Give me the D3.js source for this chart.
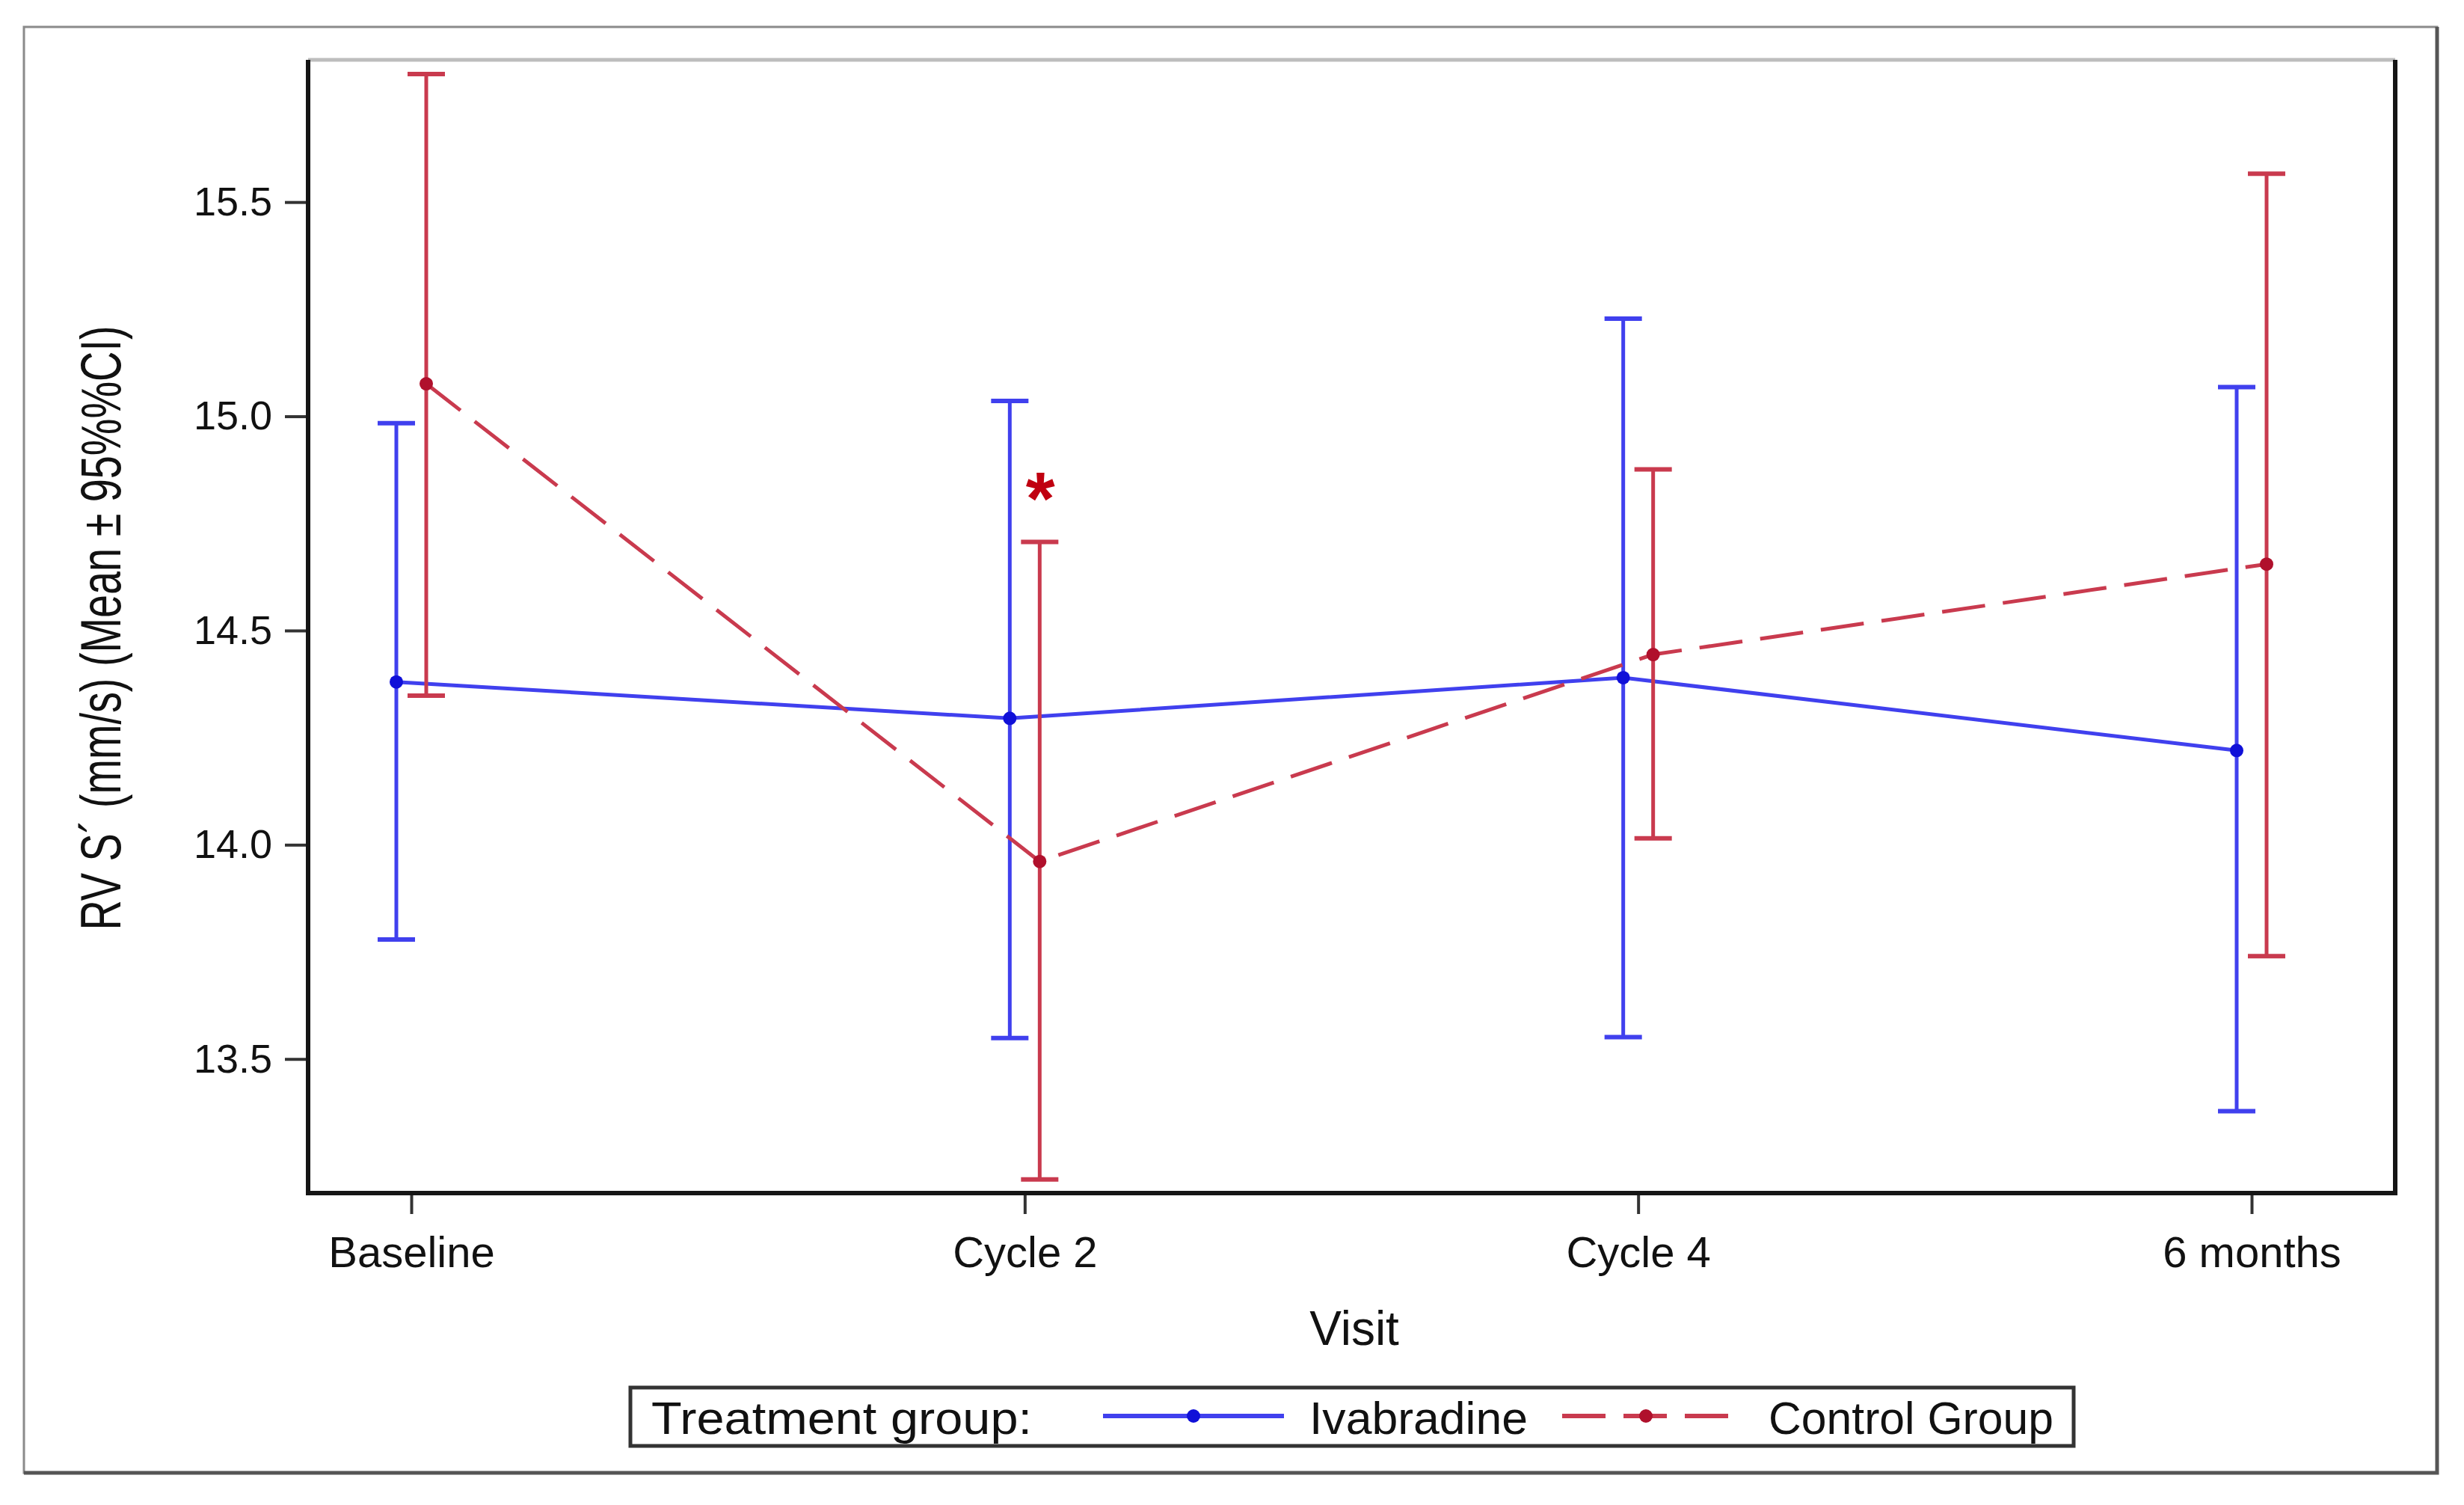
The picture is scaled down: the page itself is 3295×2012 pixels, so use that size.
<!DOCTYPE html>
<html>
<head>
<meta charset="utf-8">
<script src="https://cdn.jsdelivr.net/npm/d3@7"></script>
<style>
  body { margin: 0; background: #fff; }
  svg { display: block; font-family: "Liberation Sans", Arial, sans-serif; }
</style>
</head>
<body>
<script>
// data
const visits = ["Baseline", "Cycle 2", "Cycle 4", "6 months"];
const ivabMean = [14.38, 14.295, 14.39, 14.22];
const ivabLower = [13.779, 13.549, 13.551, 13.378];
const ivabUpper = [14.984, 15.036, 15.228, 15.068];
const ctrlMean = [15.076, 13.961, 14.444, 14.655];
const ctrlLower = [14.348, 13.219, 14.015, 13.74];
const ctrlUpper = [15.799, 14.707, 14.876, 15.566];
const yTicks = [13.5, 14.0, 14.5, 15.0, 15.5];
const seriesNames = ["Ivabradine", "Control Group"];
const starVisit = "Cycle 2";
const starValue = 14.85;

const width = 3295,
  height = 2012;
const plot = { left: 412, right: 3203, top: 80, bottom: 1595 };

const svg = d3
  .select("body")
  .append("svg")
  .attr("width", width)
  .attr("height", height)
  .attr("viewBox", [0, 0, width, height]);

const x = d3.scalePoint().domain(visits).range([550, 3011]);
const y = d3
  .scaleLinear()
  .domain([13.187, 15.832])
  .range([plot.bottom, plot.top]);

const series = [
  {
    name: seriesNames[0],
    offset: -20,
    line: "#4040ee",
    dot: "#1010d8",
    width: 5,
    dash: null,
    rows: visits.map((v, i) => ({ visit: v, mean: ivabMean[i], lo: ivabLower[i], hi: ivabUpper[i] })),
  },
  {
    name: seriesNames[1],
    offset: 20,
    line: "#c93a4e",
    dot: "#b0102c",
    width: 5,
    dash: "58,24",
    rows: visits.map((v, i) => ({ visit: v, mean: ctrlMean[i], lo: ctrlLower[i], hi: ctrlUpper[i] })),
  },
];

// outer frame
svg
  .append("rect")
  .attr("x", 32)
  .attr("y", 36)
  .attr("width", 3227)
  .attr("height", 1933)
  .attr("fill", "none")
  .attr("stroke", "#8a8a8a")
  .attr("stroke-width", 3);
svg
  .append("path")
  .attr("d", "M3259,36V1969H32")
  .attr("fill", "none")
  .attr("stroke", "#555")
  .attr("stroke-width", 5);

// y axis
const yAxis = svg
  .append("g")
  .attr("transform", `translate(${plot.left},0)`)
  .call(d3.axisLeft(y).tickValues(yTicks).tickFormat(d3.format(".1f")).tickSize(31).tickPadding(17));
yAxis.select(".domain").remove();
yAxis.selectAll(".tick line").attr("stroke", "#333").attr("stroke-width", 4);
yAxis
  .selectAll(".tick text")
  .attr("font-size", 54)
  .attr("fill", "#111")
  .attr("font-family", "Liberation Sans, Arial, sans-serif");

// x axis
const xAxis = svg
  .append("g")
  .attr("transform", `translate(0,${plot.bottom})`)
  .call(d3.axisBottom(x).tickSize(28).tickPadding(30));
xAxis.select(".domain").remove();
xAxis.selectAll(".tick line").attr("stroke", "#333").attr("stroke-width", 4);
xAxis
  .selectAll(".tick text")
  .attr("font-size", 58)
  .attr("fill", "#111")
  .attr("font-family", "Liberation Sans, Arial, sans-serif");

// plot frame
svg
  .append("line")
  .attr("x1", plot.left)
  .attr("x2", plot.right)
  .attr("y1", plot.top)
  .attr("y2", plot.top)
  .attr("stroke", "#bdbdbd")
  .attr("stroke-width", 5);
svg
  .append("path")
  .attr("d", `M${plot.left},${plot.top}V${plot.bottom}H${plot.right}V${plot.top}`)
  .attr("fill", "none")
  .attr("stroke", "#151515")
  .attr("stroke-width", 6);

// axis titles
svg
  .append("text")
  .attr("transform", `translate(161,${(435 + 1244) / 2}) rotate(-90)`)
  .attr("text-anchor", "middle")
  .attr("font-size", 76)
  .attr("fill", "#111")
  .attr("textLength", 808)
  .attr("lengthAdjust", "spacingAndGlyphs")
  .text("RV S\u00b4 (mm/s) (Mean \u00b1 95%%CI)");

svg
  .append("text")
  .attr("x", 1811)
  .attr("y", 1798)
  .attr("text-anchor", "middle")
  .attr("font-size", 64)
  .attr("fill", "#111")
  .text("Visit");

// lines, error bars, markers
const lineGen = d3
  .line()
  .x((d) => x(d.visit))
  .y((d) => y(d.mean));

series.forEach((s) => {
  const g = svg.append("g").attr("transform", `translate(${s.offset},0)`);

  g.selectAll("line.bar")
    .data(s.rows)
    .join("line")
    .attr("class", "bar")
    .attr("x1", (d) => x(d.visit))
    .attr("x2", (d) => x(d.visit))
    .attr("y1", (d) => y(d.lo))
    .attr("y2", (d) => y(d.hi))
    .attr("stroke", s.line)
    .attr("stroke-width", s.width);

  ["lo", "hi"].forEach((k) => {
    g.selectAll("line.cap-" + k)
      .data(s.rows)
      .join("line")
      .attr("class", "cap-" + k)
      .attr("x1", (d) => x(d.visit) - 25)
      .attr("x2", (d) => x(d.visit) + 25)
      .attr("y1", (d) => y(d[k]))
      .attr("y2", (d) => y(d[k]))
      .attr("stroke", s.line)
      .attr("stroke-width", 6);
  });

  g.append("path")
    .datum(s.rows)
    .attr("d", lineGen)
    .attr("fill", "none")
    .attr("stroke", s.line)
    .attr("stroke-width", s.width)
    .attr("stroke-dasharray", s.dash);

  g.selectAll("circle")
    .data(s.rows)
    .join("circle")
    .attr("cx", (d) => x(d.visit))
    .attr("cy", (d) => y(d.mean))
    .attr("r", 9)
    .attr("fill", s.dot);
});

// significance mark
svg
  .append("text")
  .attr("x", x(starVisit) + 21)
  .attr("y", y(starValue) + 59)
  .attr("text-anchor", "middle")
  .attr("font-size", 100)
  .attr("font-weight", "bold")
  .attr("fill", "#c00010")
  .text("*");

// legend
const legend = svg.append("g");
legend
  .append("rect")
  .attr("x", 843)
  .attr("y", 1855)
  .attr("width", 1930)
  .attr("height", 78)
  .attr("fill", "#fff")
  .attr("stroke", "#333")
  .attr("stroke-width", 5);
legend
  .append("text")
  .attr("x", 871)
  .attr("y", 1917)
  .attr("font-size", 62)
  .attr("fill", "#111")
  .attr("textLength", 509)
  .attr("lengthAdjust", "spacingAndGlyphs")
  .text("Treatment group:");

const legendItems = [
  { x1: 1475, x2: 1717, tx: 1751, tw: 292 },
  { x1: 2089, x2: 2313, tx: 2365, tw: 381 },
];
legendItems.forEach((li, i) => {
  const s = series[i];
  legend
    .append("line")
    .attr("x1", li.x1)
    .attr("x2", li.x2)
    .attr("y1", 1893)
    .attr("y2", 1893)
    .attr("stroke", s.line)
    .attr("stroke-width", 6)
    .attr("stroke-dasharray", s.dash);
  legend
    .append("circle")
    .attr("cx", (li.x1 + li.x2) / 2)
    .attr("cy", 1893)
    .attr("r", 9)
    .attr("fill", s.dot);
  legend
    .append("text")
    .attr("x", li.tx)
    .attr("y", 1917)
    .attr("font-size", 62)
    .attr("fill", "#111")
    .attr("textLength", li.tw)
    .attr("lengthAdjust", "spacingAndGlyphs")
    .text(s.name);
});
</script>
</body>
</html>
